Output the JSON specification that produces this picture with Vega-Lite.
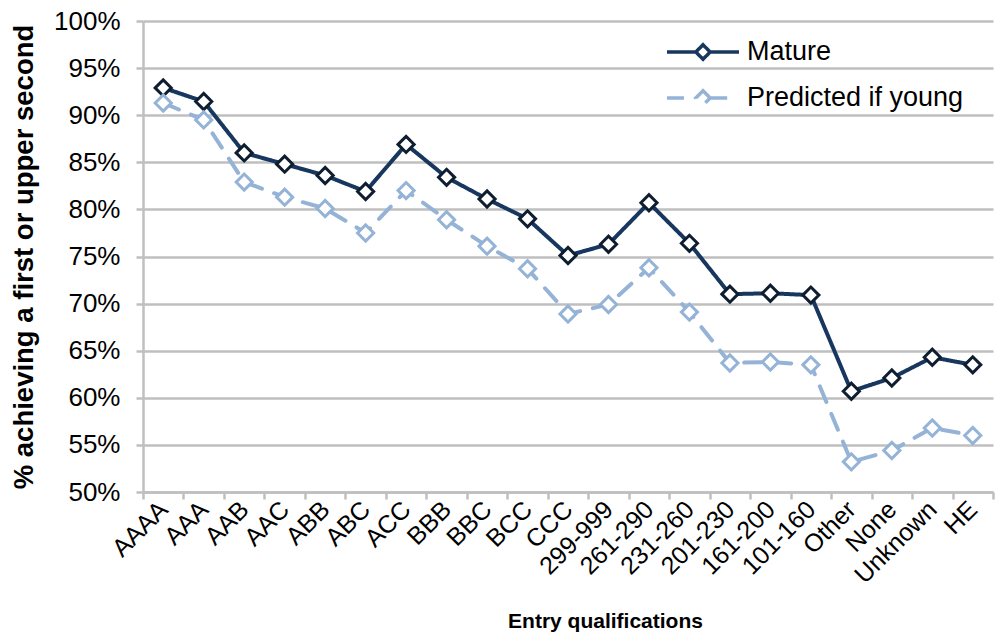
{
  "$schema": "https://vega.github.io/schema/vega-lite/v6.json",
  "width": 850,
  "height": 471,
  "autosize": {"type": "none"},
  "padding": {"left": 143, "top": 21, "right": 3, "bottom": 148},
  "background": "white",
  "config": {
    "font": "Liberation Sans",
    "view": {"stroke": null},
    "axis": {
      "labelFont": "Liberation Sans",
      "titleFont": "Liberation Sans",
      "labelColor": "#000000",
      "titleColor": "#000000",
      "domainColor": "#bfbfbf",
      "tickColor": "#bfbfbf",
      "gridColor": "#bfbfbf",
      "domainWidth": 2.5,
      "tickWidth": 2.5,
      "gridWidth": 2.5
    }
  },
  "data": {
    "values": [
      {"q": "AAAA", "series": "Mature", "v": 92.9},
      {"q": "AAA", "series": "Mature", "v": 91.45},
      {"q": "AAB", "series": "Mature", "v": 86.0},
      {"q": "AAC", "series": "Mature", "v": 84.8},
      {"q": "ABB", "series": "Mature", "v": 83.6},
      {"q": "ABC", "series": "Mature", "v": 81.9},
      {"q": "ACC", "series": "Mature", "v": 86.9},
      {"q": "BBB", "series": "Mature", "v": 83.4},
      {"q": "BBC", "series": "Mature", "v": 81.1},
      {"q": "BCC", "series": "Mature", "v": 79.0},
      {"q": "CCC", "series": "Mature", "v": 75.1},
      {"q": "299-999", "series": "Mature", "v": 76.3},
      {"q": "261-290", "series": "Mature", "v": 80.7},
      {"q": "231-260", "series": "Mature", "v": 76.4},
      {"q": "201-230", "series": "Mature", "v": 71.0},
      {"q": "161-200", "series": "Mature", "v": 71.1},
      {"q": "101-160", "series": "Mature", "v": 70.9},
      {"q": "Other", "series": "Mature", "v": 60.7},
      {"q": "None", "series": "Mature", "v": 62.1},
      {"q": "Unknown", "series": "Mature", "v": 64.3},
      {"q": "HE", "series": "Mature", "v": 63.5},
      {"q": "AAAA", "series": "Predicted if young", "v": 91.3},
      {"q": "AAA", "series": "Predicted if young", "v": 89.5},
      {"q": "AAB", "series": "Predicted if young", "v": 82.9},
      {"q": "AAC", "series": "Predicted if young", "v": 81.3},
      {"q": "ABB", "series": "Predicted if young", "v": 80.1},
      {"q": "ABC", "series": "Predicted if young", "v": 77.5},
      {"q": "ACC", "series": "Predicted if young", "v": 82.0},
      {"q": "BBB", "series": "Predicted if young", "v": 78.9},
      {"q": "BBC", "series": "Predicted if young", "v": 76.1},
      {"q": "BCC", "series": "Predicted if young", "v": 73.7},
      {"q": "CCC", "series": "Predicted if young", "v": 68.9},
      {"q": "299-999", "series": "Predicted if young", "v": 69.9},
      {"q": "261-290", "series": "Predicted if young", "v": 73.8},
      {"q": "231-260", "series": "Predicted if young", "v": 69.1},
      {"q": "201-230", "series": "Predicted if young", "v": 63.7},
      {"q": "161-200", "series": "Predicted if young", "v": 63.8},
      {"q": "101-160", "series": "Predicted if young", "v": 63.5},
      {"q": "Other", "series": "Predicted if young", "v": 53.2},
      {"q": "None", "series": "Predicted if young", "v": 54.4},
      {"q": "Unknown", "series": "Predicted if young", "v": 56.8},
      {"q": "HE", "series": "Predicted if young", "v": 56.0}
    ]
  },
  "encoding": {
    "x": {
      "field": "q",
      "type": "nominal",
      "sort": null,
      "scale": {"type": "band", "paddingInner": 0, "paddingOuter": 0},
      "axis": {
        "title": "Entry qualifications",
        "titleFontSize": 21,
        "titleFontWeight": "bold",
        "titlePadding": 23,
        "titleX": 462,
        "labelFontSize": 25,
        "labelAngle": -45,
        "labelAlign": "right",
        "labelBaseline": "middle",
        "labelPadding": 6,
        "labelDx": 10,
        "labelDy": 18,
        "tickBand": "extent",
        "tickSize": 7,
        "grid": false
      }
    },
    "y": {
      "field": "v",
      "type": "quantitative",
      "scale": {"domain": [50, 100], "nice": false, "zero": false},
      "axis": {
        "title": "% achieving a first or upper second",
        "titleFontSize": 27.5,
        "titleFontWeight": "bold",
        "titlePadding": 15,
        "values": [50, 55, 60, 65, 70, 75, 80, 85, 90, 95, 100],
        "labelExpr": "datum.value + '%'",
        "labelFontSize": 26,
        "labelPadding": 16,
        "tickSize": 7,
        "grid": true
      }
    }
  },
  "layer": [
    {
      "mark": {"type": "line", "strokeWidth": 4, "strokeCap": "round"},
      "encoding": {
        "color": {
          "field": "series",
          "type": "nominal",
          "scale": {"domain": ["Mature", "Predicted if young"], "range": ["#17375e", "#95b3d7"]},
          "legend": {
            "title": null,
            "orient": "none",
            "legendX": 540,
            "legendY": 11,
            "padding": 0,
            "labelFontSize": 27,
            "labelFont": "Liberation Sans",
            "labelColor": "#000000",
            "labelLimit": 400,
            "labelOffset": 24,
            "rowPadding": 11,
            "symbolType": "M-2,0H-0.4M0.4,0H2M0,-0.4L0.4,0L0,0.4L-0.4,0Z",
            "symbolSize": 1296,
            "symbolStrokeWidth": 3.5,
            "symbolFillColor": "white",
            "encode": {"symbols": {"update": {"fill": {"value": "white"}}}}
          }
        },
        "strokeDash": {
          "field": "series",
          "type": "nominal",
          "scale": {"domain": ["Mature", "Predicted if young"], "range": [[1, 0], [17, 13]]},
          "legend": null
        }
      }
    },
    {
      "mark": {"type": "point", "shape": "diamond", "filled": false, "fill": "white", "fillOpacity": 1, "size": 260, "strokeWidth": 3, "opacity": 1},
      "encoding": {
        "stroke": {
          "field": "series",
          "type": "nominal",
          "scale": {"domain": ["Mature", "Predicted if young"], "range": ["#0e1e30", "#95b3d7"]},
          "legend": null
        }
      }
    }
  ]
}
